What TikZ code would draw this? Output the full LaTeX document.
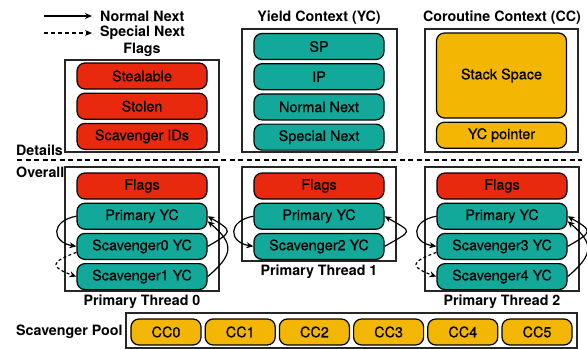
\documentclass[tikz,border=0pt]{standalone}
\usepackage{fontspec}
\setmainfont{TeX Gyre Heros}
\newfontfamily\pillfont[FakeBold=0.6]{TeX Gyre Heros}
\usepackage{tikz}
\usetikzlibrary{positioning, arrows.meta}
\definecolor{flagred}{HTML}{E8290E}
\definecolor{ycteal}{HTML}{12A89A}
\definecolor{ccgold}{HTML}{F2B603}

\begin{document}
\begin{tikzpicture}[x=1bp, y=-1bp, font=\fontsize{14.3}{16}\selectfont,
 pill/.style={draw, line width=1.2bp, rounded corners=8bp, minimum width=130bp, minimum height=26bp, inner sep=0pt,
   font=\pillfont\fontsize{14.5}{16}\selectfont},
 flg/.style={pill, fill=flagred},
 yc/.style={pill, fill=ycteal},
 cc/.style={pill, fill=ccgold},
 boxframe/.style={draw=black!85, line width=1.2bp, minimum width=154bp, inner sep=0pt},
 ttl/.style={font=\fontsize{14.3}{16}\selectfont\bfseries, inner sep=0pt},
 nxt/.style={-{Stealth[length=7bp,width=6bp]}, line width=1.2bp},
 spc/.style={nxt, dash pattern=on 3bp off 2.5bp}]
\useasboundingbox (0,0) rectangle (587,348);

% legend
\coordinate (n0) at (44,16);
\node[ttl, anchor=west] (nl) at (100,16) {Normal Next};
\draw[nxt, shorten >=8bp] (n0) -- (nl.west);
\coordinate (x0) at (44,33);
\node[ttl, anchor=west] (xl) at (100,33) {Special Next};
\draw[nxt, dash pattern=on 4bp off 3bp, shorten >=8bp] (x0) -- (xl.west);

% details
\node[ttl] (flt) at (142,50) {Flags};
\node[boxframe, minimum height=92bp] (fb) at (142,106) {};
\node[flg] (st) at (142,76) {Stealable};
\node[flg, below=3bp of st] (sn) {Stolen};
\node[flg, below=3bp of sn] (sid) {Scavenger IDs};

\node[ttl] (yct) at (319,18) {Yield Context (YC)};
\node[boxframe, minimum width=155bp, minimum height=123bp] (yb) at (319.5,90.5) {};
\node[yc] (sp) at (319,46.5) {SP};
\node[yc, below=3bp of sp] (ip) {IP};
\node[yc, below=3bp of ip] (nn) {Normal Next};
\node[yc, below=3bp of nn] (sx) {Special Next};

\node[ttl] (cct) at (502,18) {Coroutine Context (CC)};
\node[boxframe, minimum width=153bp, minimum height=123bp] (cb) at (501.5,90.5) {};
\node[cc, minimum height=85bp] (stk) at (501.5,75.5) {Stack Space};
\node[cc, below=3bp of stk] (ycp) {YC pointer};

\node[ttl, anchor=west] (dl) at (16,150) {Details};
\node[ttl, anchor=west] (ol) at (16,172) {Overall};
\coordinate (da) at (17,160);
\coordinate (db) at (582,160);
\draw[line width=2bp, dash pattern=on 5bp off 3.5bp] (da) -- (db);

% overall
\node[boxframe, minimum height=124bp] (tb0) at (142,229) {};
\node[flg] (f0) at (142,186) {Flags};
\node[yc, below=3bp of f0] (p0) {Primary YC};
\node[yc, below=3bp of p0] (s0) {Scavenger0 YC};
\node[yc, below=3bp of s0] (s1) {Scavenger1 YC};
\node[ttl, below=3bp of tb0] (tl0) {Primary Thread 0};

\node[boxframe, minimum height=94bp] (tb1) at (319,214) {};
\node[flg] (f1) at (319,186) {Flags};
\node[yc, below=3bp of f1] (p1) {Primary YC};
\node[yc, below=3bp of p1] (s2) {Scavenger2 YC};
\node[ttl, below=3bp of tb1] (tl1) {Primary Thread 1};

\node[boxframe, minimum height=124bp] (tb2) at (502,229) {};
\node[flg] (f2) at (502,186) {Flags};
\node[yc, below=3bp of f2] (p2) {Primary YC};
\node[yc, below=3bp of p2] (s3) {Scavenger3 YC};
\node[yc, below=3bp of s3] (s4) {Scavenger4 YC};
\node[ttl, below=3bp of tb2] (tl2) {Primary Thread 2};

\foreach \p/\a/\b in {p0/s0/s1, p2/s3/s4}{
  \draw[nxt] (\p.west) to[out=190, in=170, looseness=2.2] (\a.west);
  \draw[spc] ([yshift=-6bp]\a.west) to[out=200, in=160, looseness=3] (\b.west);
  \draw[nxt] (\a.east) to[out=30, in=-30, looseness=2.5] (\p.east);
  \draw[nxt] (\b.east) to[out=40, in=-40, looseness=1.6] ([yshift=-5bp]\p.east);
}
\draw[nxt] (p1.west) to[out=190, in=170, looseness=2.2] (s2.west);
\draw[nxt] (s2.east) to[out=30, in=-30, looseness=2.8] (p1.east);

% pool
\node[ttl, anchor=west] (pl) at (16,332) {Scavenger Pool};
\node[boxframe, minimum width=451bp, minimum height=35bp] (pb) at (351.5,330.5) {};
\foreach \i in {0,...,5}
  \node[cc, minimum width=70bp] (c\i) at (166+74.2*\i,332) {CC\i};

\end{tikzpicture}
\end{document}
